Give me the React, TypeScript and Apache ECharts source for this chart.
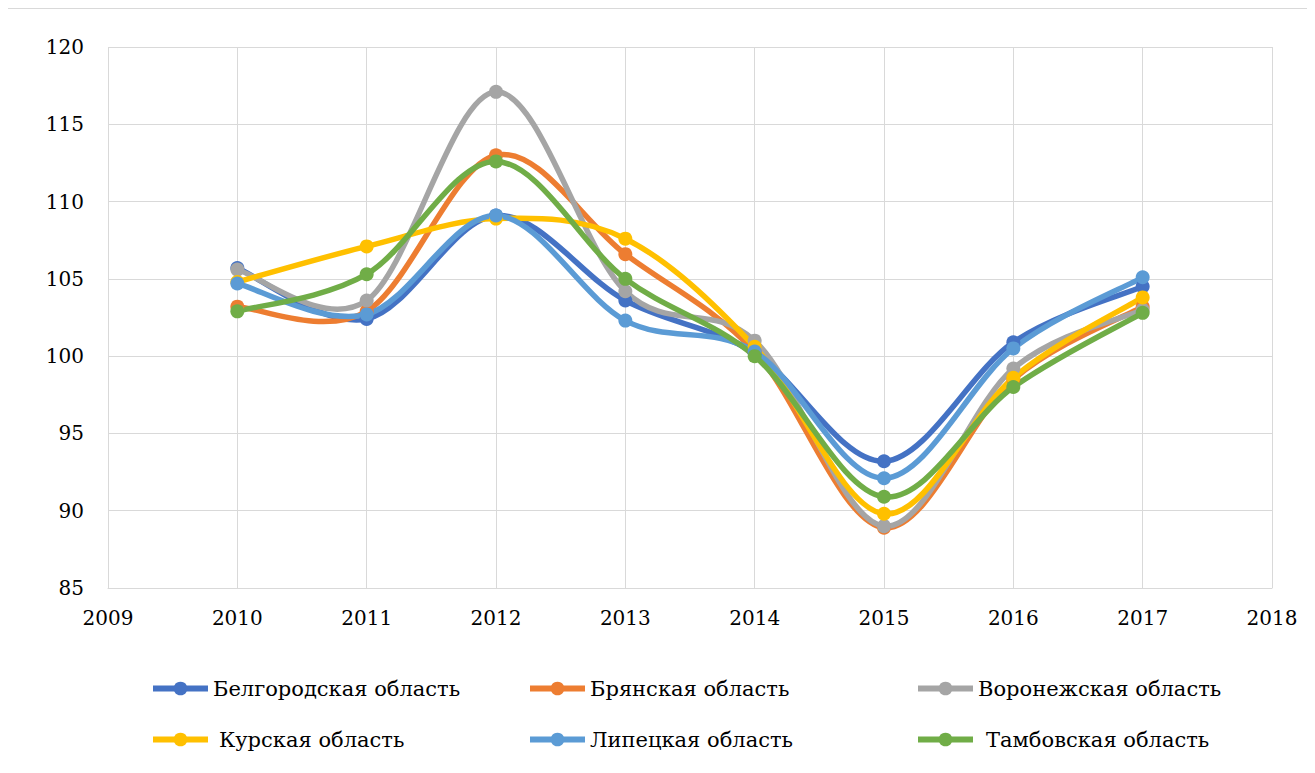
import React, { useEffect, useRef } from "react";
import * as echarts from "echarts";

const years = [2010, 2011, 2012, 2013, 2014, 2015, 2016, 2017];
const seriesNames = [
  "Белгородская область",
  "Брянская область",
  "Воронежская область",
  "Курская область",
  "Липецкая область",
  "Тамбовская область",
];
const belgorod = [105.7, 102.4, 109.1, 103.6, 100.2, 93.2, 100.9, 104.5];
const bryansk = [103.2, 102.9, 113.0, 106.6, 100.3, 88.9, 98.5, 103.2];
const voronezh = [105.6, 103.6, 117.1, 104.2, 101.0, 89.0, 99.2, 103.0];
const kursk = [104.8, 107.1, 108.9, 107.6, 100.6, 89.8, 98.6, 103.8];
const lipetsk = [104.7, 102.7, 109.1, 102.3, 100.3, 92.1, 100.5, 105.1];
const tambov = [102.9, 105.3, 112.6, 105.0, 100.0, 90.9, 98.0, 102.8];
const colors = ["#4472C4", "#ED7D31", "#A5A5A5", "#FFC000", "#5B9BD5", "#70AD47"];
const allValues = [belgorod, bryansk, voronezh, kursk, lipetsk, tambov];

const legendPos = [
  { left: 150, top: 678, pad: 0 },
  { left: 527, top: 678, pad: 0 },
  { left: 915, top: 678, pad: 0 },
  { left: 150, top: 729, pad: 6 },
  { left: 527, top: 729, pad: 0 },
  { left: 915, top: 729, pad: 8 },
];

const FONT = "DejaVu Serif";
const LINE_W = 5.5;

export default function App() {
  const ref = useRef<HTMLDivElement>(null);
  useEffect(() => {
    if (!ref.current) return;
    const chart = echarts.init(ref.current, null, { renderer: "svg" });

    const series: any[] = [];
    seriesNames.forEach((n, i) => {
      const vals = allValues[i];
      const data = years.map((y, j) => [y, vals[j]]);
      series.push({
        name: n + "_curve",
        type: "custom",
        coordinateSystem: "cartesian2d",
        data,
        silent: true,
        renderItem: (params: any, api: any) => {
          const j = params.dataIndex;
          if (j >= years.length - 1) return null;
          const pt = (k: number) => {
            const kk = Math.max(0, Math.min(years.length - 1, k));
            return api.coord([years[kk], vals[kk]]);
          };
          const p0 = pt(j - 1);
          const p1 = pt(j);
          const p2 = pt(j + 1);
          const p3 = pt(j + 2);
          const t = 1 / 6;
          return {
            type: "bezierCurve",
            shape: {
              x1: p1[0],
              y1: p1[1],
              x2: p2[0],
              y2: p2[1],
              cpx1: p1[0] + (p2[0] - p0[0]) * t,
              cpy1: p1[1] + (p2[1] - p0[1]) * t,
              cpx2: p2[0] - (p3[0] - p1[0]) * t,
              cpy2: p2[1] - (p3[1] - p1[1]) * t,
            },
            style: {
              fill: "none",
              stroke: colors[i],
              lineWidth: LINE_W,
              lineCap: "round",
            },
          };
        },
      });
      series.push({
        name: n,
        type: "line",
        data,
        symbol: "circle",
        symbolSize: 14,
        color: colors[i],
        lineStyle: { color: colors[i], width: 0, opacity: 0 },
        itemStyle: { color: colors[i] },
      });
    });

    chart.setOption({
      animation: false,
      backgroundColor: "#ffffff",
      textStyle: { fontFamily: FONT },
      graphic: [
        {
          type: "rect",
          shape: { x: 7.5, y: 8.5, width: 1305, height: 770 },
          style: { fill: "none", stroke: "#d9d9d9", lineWidth: 1 },
          silent: true,
        },
      ],
      grid: { left: 108, top: 47, width: 1164, height: 541, containLabel: false },
      xAxis: {
        type: "value",
        min: 2009,
        max: 2018,
        interval: 1,
        axisLine: { show: true, lineStyle: { color: "#d9d9d9", width: 1 } },
        axisTick: { show: false },
        splitLine: { show: true, lineStyle: { color: "#d9d9d9", width: 1 } },
        axisLabel: {
          color: "#000",
          fontSize: 20,
          fontFamily: FONT,
          margin: 20,
          formatter: (v: number) => String(v),
        },
      },
      yAxis: {
        type: "value",
        min: 85,
        max: 120,
        interval: 5,
        axisLine: { show: false },
        axisTick: { show: false },
        splitLine: { show: true, lineStyle: { color: "#d9d9d9", width: 1 } },
        axisLabel: { color: "#000", fontSize: 20, fontFamily: FONT, margin: 24 },
      },
      legend: seriesNames.map((n, i) => ({
        data: [n],
        left: legendPos[i].left,
        top: legendPos[i].top,
        padding: 0,
        itemWidth: 55,
        itemHeight: 17,
        itemGap: 0,
        selectedMode: false,
        lineStyle: { color: colors[i], width: 6, opacity: 1 },
        textStyle: {
          color: "#000",
          fontSize: 21,
          fontFamily: FONT,
          padding: [0, 0, 0, legendPos[i].pad],
        },
      })),
      series,
    });
    return () => chart.dispose();
  }, []);
  return <div ref={ref} style={{ width: 1315, height: 773, margin: -8 }} />;
}
